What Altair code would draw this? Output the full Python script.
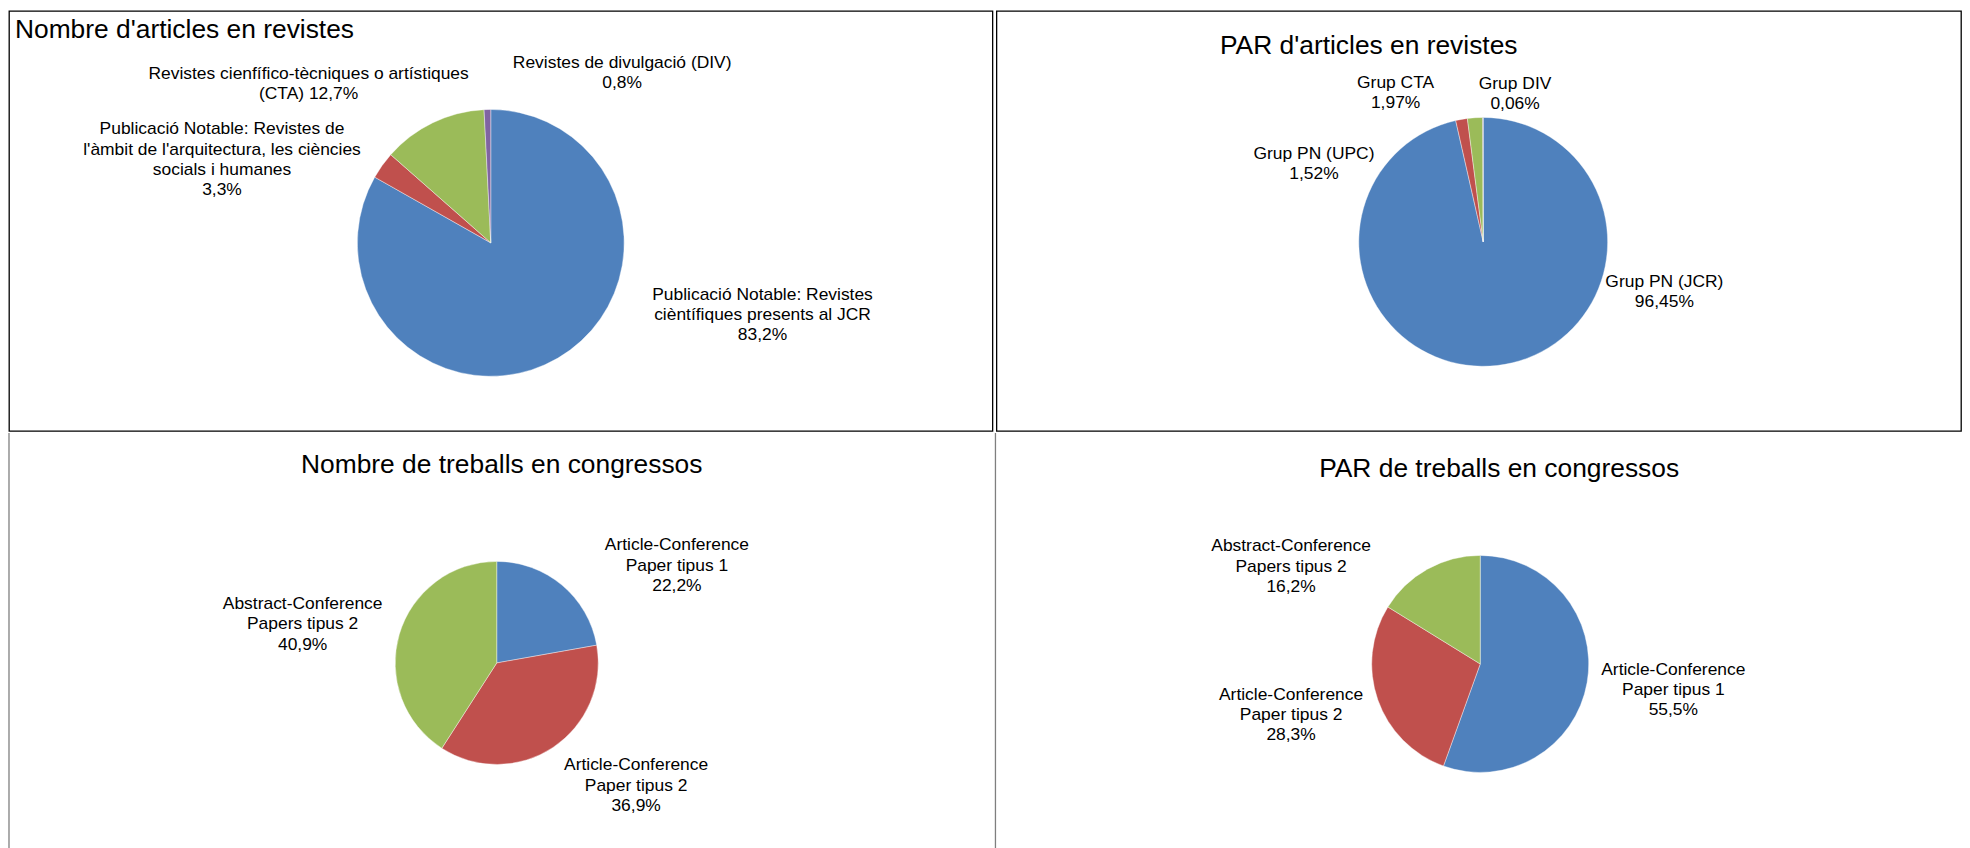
import altair as alt
import pandas as pd

FONT = "Liberation Sans"

# ---------------- data ----------------
p1_title = "Nombre d'articles en revistes"
p1_cats = ["JCR", "PN arquitectura", "CTA", "DIV"]
p1_vals = [83.2, 3.3, 12.7, 0.8]
p1_labels = [
    "Publicació Notable: Revistes\ncièntífiques presents al JCR\n83,2%",
    "Publicació Notable: Revistes de\nl'àmbit de l'arquitectura, les ciències\nsocials i humanes\n3,3%",
    "Revistes cienfífico-tècniques o artístiques\n(CTA) 12,7%",
    "Revistes de divulgació (DIV)\n0,8%",
]

p2_title = "PAR d'articles en revistes"
p2_cats = ["Grup PN (JCR)", "Grup PN (UPC)", "Grup CTA", "Grup DIV"]
p2_vals = [96.45, 1.52, 1.97, 0.06]
p2_labels = [
    "Grup PN (JCR)\n96,45%",
    "Grup PN (UPC)\n1,52%",
    "Grup CTA\n1,97%",
    "Grup DIV\n0,06%",
]

p3_title = "Nombre de treballs en congressos"
p3_cats = ["Article-Conference Paper tipus 1", "Article-Conference Paper tipus 2",
           "Abstract-Conference Papers tipus 2"]
p3_vals = [22.2, 36.9, 40.9]
p3_labels = [
    "Article-Conference\nPaper tipus 1\n22,2%",
    "Article-Conference\nPaper tipus 2\n36,9%",
    "Abstract-Conference\nPapers tipus 2\n40,9%",
]

p4_title = "PAR de treballs en congressos"
p4_cats = p3_cats
p4_vals = [55.5, 28.3, 16.2]
p4_labels = [
    "Article-Conference\nPaper tipus 1\n55,5%",
    "Article-Conference\nPaper tipus 2\n28,3%",
    "Abstract-Conference\nPapers tipus 2\n16,2%",
]

# ---------------- styles / layout ----------------
PALETTE = ["#4F81BD", "#C0504D", "#9BBB59", "#8064A2"]

# label anchor positions (panel pixels, centre of first line)
p1_lpos = [(757, 285), (214, 119), (301, 63), (616, 52)]
p2_lpos = [(671, 272), (319, 144), (401, 72), (521, 73)]
p3_lpos = [(671, 113), (630, 334), (295, 172)]
p4_lpos = [(681, 238), (297, 263), (297, 114)]


def panel(title, cats, vals, labels, lpos, W, H, center, radius,
          t_align, t_x, t_y, framed):
    df = pd.DataFrame({"cat": cats, "val": vals, "ord": list(range(len(cats)))})
    arc = alt.Chart(df).mark_arc(outerRadius=radius, stroke="white",
                                 strokeWidth=0.4).encode(
        theta=alt.Theta("val:Q", stack=True),
        order=alt.Order("ord:Q"),
        color=alt.Color("cat:N", scale=alt.Scale(domain=cats,
                                                 range=PALETTE[:len(cats)]),
                        legend=None),
        x=alt.value(center[0]),
        y=alt.value(center[1]),
    )
    ldf = pd.DataFrame({
        "label": labels,
        "lx": [p[0] for p in lpos],
        "ly": [p[1] for p in lpos],
    })
    txt = alt.Chart(ldf).mark_text(
        lineBreak="\n", font=FONT, fontSize=17.5, lineHeight=20.3,
        align="center", baseline="middle", color="black",
    ).encode(
        x=alt.X("lx:Q", scale=None, axis=None),
        y=alt.Y("ly:Q", scale=None, axis=None),
        text="label:N",
    )
    tdf = pd.DataFrame({"title": [title]})
    ttl = alt.Chart(tdf).mark_text(
        font=FONT, fontSize=26.5, align=t_align, baseline="middle", color="black",
    ).encode(
        x=alt.value(t_x), y=alt.value(t_y), text="title:N",
    )
    layers = [arc, txt, ttl]
    if not framed:
        edge = pd.DataFrame({"e": [0]})
        layers.append(alt.Chart(edge).mark_rule(color="#7f7f7f", strokeWidth=1.3).encode(
            x=alt.value(0), y=alt.value(0), y2=alt.value(H)))
    ch = alt.layer(*layers).properties(
        width=W, height=H,
        view=alt.ViewBackground(stroke="black" if framed else None, strokeWidth=1.3),
    )
    return ch


W1, W2 = 988, 969
H1, H2 = 422, 418

c1 = panel(p1_title, p1_cats, p1_vals, p1_labels, p1_lpos, W1, H1, (484, 233), 134,
           "left", 6, 19, True)
c2 = panel(p2_title, p2_cats, p2_vals, p2_labels, p2_lpos, W2, H1, (489, 232), 125,
           "center", 374, 35, True)
c3 = panel(p3_title, p3_cats, p3_vals, p3_labels, p3_lpos, W1, H2, (490, 231), 102,
           "center", 495, 32, False)
c4 = panel(p4_title, p4_cats, p4_vals, p4_labels, p4_lpos, W2, H2, (487, 232), 109,
           "center", 506, 36, False)

top = alt.hconcat(c1, c2, spacing=2).resolve_scale(color="independent")
bottom = alt.hconcat(c3, c4, spacing=2).resolve_scale(color="independent")

chart = alt.vconcat(top, bottom, spacing=0).resolve_scale(
    color="independent").properties(padding=0).configure_view(stroke=None)

chart.save("out.html", embed_options={"renderer": "svg", "actions": False})
